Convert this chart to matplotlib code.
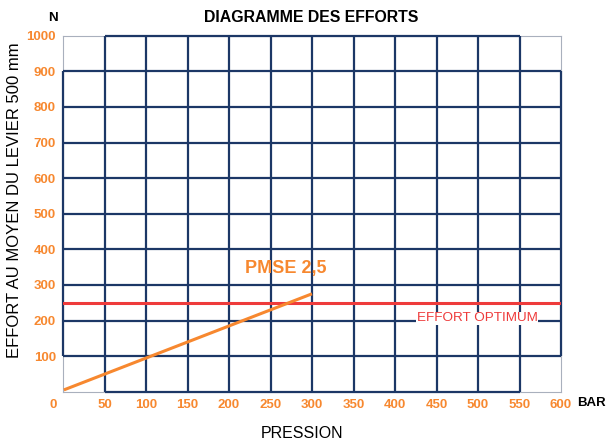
import matplotlib
matplotlib.use("Agg")
import matplotlib.pyplot as plt
import matplotlib.transforms as mtransforms

plt.rcParams['font.family'] = ['Liberation Sans', 'DejaVu Sans']

# data
pression_ticks = [0, 50, 100, 150, 200, 250, 300, 350, 400, 450, 500, 550, 600]
effort_ticks = [100, 200, 300, 400, 500, 600, 700, 800, 900, 1000]
pmse_x = [1, 300]
pmse_y = [5, 275]
effort_optimum = 250

NAVY = "#1c3766"
ORANGE = "#f7882f"
RED = "#ee3b3b"

fig = plt.figure(figsize=(6.06, 4.42), dpi=100)
ax = fig.add_axes([63/606, 1-391.7/442, (561-63)/606, (391.7-35.7)/442])
ax.set_xlim(0, 600)
ax.set_ylim(0, 1000)

# grid lines
for x in pression_ticks[1:-1]:
    ax.plot([x, x], [0, 1000], color=NAVY, lw=1.6, zorder=1, solid_capstyle="butt")
for y in effort_ticks[:-1]:
    ax.plot([0, 600], [y, y], color=NAVY, lw=1.6, zorder=1, solid_capstyle="butt")
# outer edges (corner cells left light)
ax.plot([0, 0], [100, 900], color=NAVY, lw=1.6, zorder=1, clip_on=False, solid_capstyle="butt")
ax.plot([600, 600], [100, 900], color=NAVY, lw=1.6, zorder=1, clip_on=False, solid_capstyle="butt")
ax.plot([50, 550], [0, 0], color=NAVY, lw=1.6, zorder=1, clip_on=False, solid_capstyle="butt")
ax.plot([50, 550], [1000, 1000], color=NAVY, lw=1.6, zorder=1, clip_on=False, solid_capstyle="butt")

for s in ax.spines.values():
    s.set_color("#a9b0bd")
    s.set_linewidth(0.8)
    s.set_zorder(0)

ax.axhline(effort_optimum, color=RED, lw=2.2, zorder=3)
ax.plot(pmse_x, pmse_y, color=ORANGE, lw=2.2, zorder=4, solid_capstyle="butt")

ax.text(219, 347, "PMSE 2,5", color=ORANGE, fontsize=13, fontweight="bold",
        ha="left", va="center", zorder=5)
ax.text(499, 206, "EFFORT OPTIMUM", color=RED, fontsize=9.7, ha="center", va="center",
        zorder=5, bbox=dict(facecolor="white", edgecolor="none", pad=0.6))

ax.set_xticks(pression_ticks)
ax.set_xticklabels([str(v) for v in pression_ticks])
ax.set_yticks(effort_ticks)
ax.set_yticklabels([str(v) for v in effort_ticks])
ax.tick_params(length=0, labelsize=9.5, labelcolor=ORANGE, pad=5)
for lab in ax.get_xticklabels() + ax.get_yticklabels():
    lab.set_fontweight("bold")
# shift the "0" label slightly left
lab0 = ax.get_xticklabels()[0]
lab0.set_transform(lab0.get_transform() + mtransforms.ScaledTranslation(-10/100, 0, fig.dpi_scale_trans))

fig.text(591/606, 1-403/442, "BAR", fontsize=9.5, fontweight="bold", color="black",
         ha="center", va="center")
fig.text(53/606, 1-18/442, "N", fontsize=9.5, fontweight="bold", color="black",
         ha="center", va="center")
fig.text(311/606, 1-18/442, "DIAGRAMME DES EFFORTS", fontsize=11.4, fontweight="bold",
         color="black", ha="center", va="center")
fig.text(302/606, 1-433/442, "PRESSION", fontsize=11.5, color="black", ha="center", va="center")
fig.text(15/606, 1-200/442, "EFFORT AU MOYEN DU LEVIER 500 mm", fontsize=12, color="black",
         ha="center", va="center", rotation=90)

fig.savefig("out.png", dpi=100)
